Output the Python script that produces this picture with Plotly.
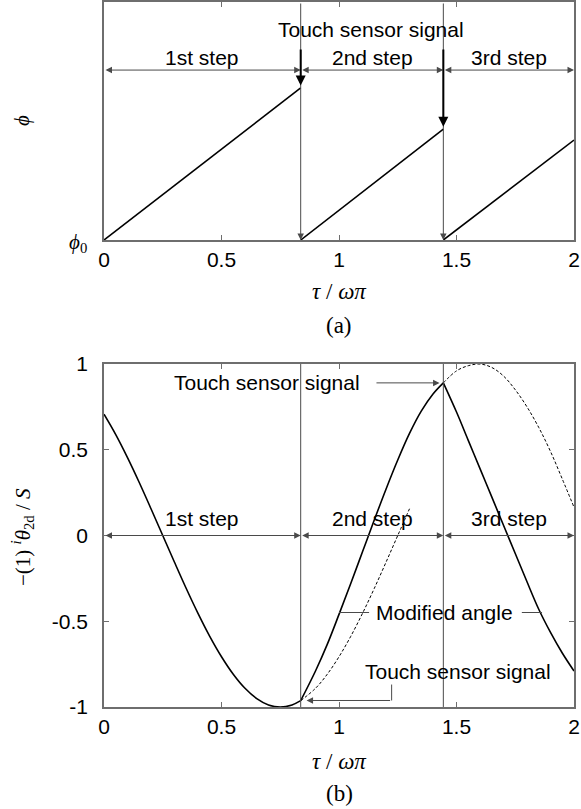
import plotly.graph_objects as go

# ---- data -------------------------------------------------------------
# switching instants (touch sensor signals), in tau / (omega pi)
tau_switch = [0.0, 0.837, 1.444, 2.0]
# phi at the end of each step (phi restarts from phi0 = 0 at each switch)
phi_end = [0.639, 0.466, 0.420]

# (b) desired angle, 1st step (solid)
tau_s1 = [0.0, 0.05, 0.10, 0.15, 0.20, 0.25, 0.30, 0.35, 0.40, 0.45, 0.50,
          0.55, 0.60, 0.65, 0.70, 0.75, 0.80, 0.837]
theta_s1 = [0.707, 0.588, 0.454, 0.309, 0.156, 0.0, -0.156, -0.309, -0.454,
            -0.588, -0.707, -0.809, -0.891, -0.951, -0.988, -1.0, -0.988, -0.963]

# unmodified continuation during the 2nd step (dashed)
tau_d2 = [0.837, 0.90, 0.95, 1.00, 1.05, 1.10, 1.15, 1.20, 1.25, 1.30]
theta_d2 = [-0.963, -0.891, -0.809, -0.707, -0.588, -0.454, -0.309, -0.156, 0.0, 0.156]

# modified angle, 2nd step (solid)
tau_s2 = [0.837, 0.90, 0.95, 1.00, 1.05, 1.10, 1.15, 1.20, 1.25, 1.30, 1.35, 1.40, 1.444]
theta_s2 = [-0.963, -0.79, -0.635, -0.46, -0.28, -0.095, 0.09, 0.27, 0.44, 0.595, 0.725, 0.825, 0.89]

# unmodified continuation during the 3rd step (dashed)
tau_d3 = [1.444, 1.50, 1.55, 1.60, 1.65, 1.70, 1.75, 1.80, 1.85, 1.90, 1.95, 2.0]
theta_d3 = [0.89, 0.96, 0.99, 1.0, 0.98, 0.93, 0.85, 0.75, 0.63, 0.49, 0.33, 0.165]

# modified angle, 3rd step (solid)
tau_s3 = [1.444, 1.50, 1.55, 1.60, 1.65, 1.70, 1.75, 1.80, 1.85, 1.90, 1.95, 2.0]
theta_s3 = [0.89, 0.72, 0.555, 0.39, 0.225, 0.06, -0.105, -0.27, -0.43, -0.565, -0.685, -0.79]

x_ticks = [0, 0.5, 1, 1.5, 2]
x_ticktext = ["0", "0.5", "1", "1.5", "2"]
y_ticks = [-1, -0.5, 0, 0.5, 1]
y_ticktext = ["-1", "-0.5", "0", "0.5", "1"]
step_names = ["1st step", "2nd step", "3rd step"]

# ---- styling ----------------------------------------------------------
SANS = "Liberation Sans, Arial, sans-serif"
SERIF = "Liberation Serif, Times New Roman, serif"
FRAME = "#6e6e6e"
GUIDE = "#4a4a4a"
FS = 21
FS_SERIF = 23

fig = go.Figure()

# (a) phi ramps
for k in range(3):
    fig.add_trace(go.Scatter(
        x=[tau_switch[k], tau_switch[k + 1]], y=[0, phi_end[k]],
        mode="lines", line=dict(color="black", width=1.6),
        xaxis="x", yaxis="y", showlegend=False, hoverinfo="skip"))

# (b) curves
def curve(xs, ys, dash=False):
    fig.add_trace(go.Scatter(
        x=xs, y=ys, mode="lines", line_shape="spline",
        line=dict(color="black", width=1.0 if dash else 1.6,
                  dash="3px,2px" if dash else "solid"),
        xaxis="x2", yaxis="y2", showlegend=False, hoverinfo="skip"))

curve(tau_d2, theta_d2, dash=True)
curve(tau_d3, theta_d3, dash=True)
curve(tau_s1, theta_s1)
curve(tau_s2, theta_s2)
curve(tau_s3, theta_s3)

ann = []
shapes = []

def arrow(x0, y0, x1, y1, xr, yr, side="end", color=GUIDE, width=1.0, size=1.3, head=2):
    ann.append(dict(x=x1, y=y1, ax=x0, ay=y0, xref=xr, yref=yr, axref=xr, ayref=yr,
                    text="", showarrow=True, arrowhead=head, startarrowhead=head,
                    arrowside=side, arrowsize=size, startarrowsize=size,
                    arrowwidth=width, arrowcolor=color, standoff=0, startstandoff=0))

def text(x, y, s, xr, yr, font=SANS, size=FS, **kw):
    ann.append(dict(x=x, y=y, xref=xr, yref=yr, text=s, showarrow=False,
                    xanchor="center", yanchor="middle",
                    font=dict(family=font, size=size, color="black"), **kw))

def seg(x0, y0, x1, y1, xr, yr, color=GUIDE, width=1.0):
    shapes.append(dict(type="line", x0=x0, y0=y0, x1=x1, y1=y1, xref=xr, yref=yr,
                       line=dict(color=color, width=width)))

# --- (a) annotations
step_y_a = 0.714
for k in range(3):
    arrow(tau_switch[k], step_y_a, tau_switch[k + 1], step_y_a, "x", "y", side="end+start")
    text((tau_switch[k] + tau_switch[k + 1]) / 2, 0.765, step_names[k], "x", "y")
for k in (1, 2):
    # switching line down to phi0
    arrow(tau_switch[k], 1.0, tau_switch[k], 0.0, "x", "y")
    # touch sensor signal pointing at the end of the previous ramp
    arrow(tau_switch[k], 0.807, tau_switch[k], phi_end[k - 1] + 0.01, "x", "y",
          color="black", width=2.0, size=1.0)
text(1.136, 0.885, "Touch sensor signal", "x", "y")
text(-0.0553, 0.0, "<i>ϕ</i><sub>0</sub>", "paper", "y", font=SERIF, size=FS, yshift=-3)

# --- (b) annotations
for k in (1, 2):
    seg(tau_switch[k], -1, tau_switch[k], 1, "x2", "y2")
for k in range(3):
    arrow(tau_switch[k], 0.0, tau_switch[k + 1], 0.0, "x2", "y2", side="end+start")
    text((tau_switch[k] + tau_switch[k + 1]) / 2, 0.1, step_names[k], "x2", "y2")

text(0.694, 0.89, "Touch sensor signal", "x2", "y2")
arrow(1.153, 0.89, 1.428, 0.89, "x2", "y2")

text(1.449, -0.449, "Modified angle", "x2", "y2")
seg(1.0, -0.449, 1.128, -0.449, "x2", "y2")
seg(1.778, -0.449, 1.864, -0.449, "x2", "y2")

text(1.506, -0.793, "Touch sensor signal", "x2", "y2")
seg(1.224, -0.869, 1.224, -0.962, "x2", "y2")
arrow(1.224, -0.962, 0.862, -0.962, "x2", "y2")

# axis titles and panel labels
text(0.5, 0.5887, "<i>τ</i> / <i>ωπ</i>", "paper", "paper", font=SERIF, size=FS_SERIF)
text(0.5, -0.078, "<i>τ</i> / <i>ωπ</i>", "paper", "paper", font=SERIF, size=FS_SERIF)
text(0.5, 0.5418, "(a)", "paper", "paper", font=SERIF, size=FS_SERIF)
text(0.5, -0.122, "(b)", "paper", "paper", font=SERIF, size=FS_SERIF)
text(-0.1745, 0.8326, "<i>ϕ</i>", "paper", "paper", font=SERIF, textangle=-90)
text(-0.1745, 0.2411,
     "−(1) <sup><i>i</i></sup><i>θ</i><sub>2d</sub> / <i>S</i>",
     "paper", "paper", font=SERIF, textangle=-90)

axis_common = dict(showline=True, mirror="ticks", linecolor=FRAME, linewidth=1.5,
                   ticks="inside", ticklen=5, tickcolor=FRAME, tickwidth=1,
                   showgrid=False, zeroline=False, automargin=False,
                   tickfont=dict(family=SANS, size=FS, color="black"))

fig.update_layout(
    width=581, height=809,
    margin=dict(l=104, r=7, t=2, b=102, pad=0, autoexpand=False),
    paper_bgcolor="white", plot_bgcolor="white",
    showlegend=False,
    xaxis=dict(domain=[0, 1], range=[0, 2], anchor="y",
               tickvals=x_ticks, ticktext=x_ticktext, ticklabelstandoff=0, **axis_common),
    yaxis=dict(domain=[0.6624, 1], range=[0, 1], anchor="x",
               tickvals=[], **axis_common),
    xaxis2=dict(domain=[0, 1], range=[0, 2], anchor="y2",
                tickvals=x_ticks, ticktext=x_ticktext, ticklabelstandoff=0, **axis_common),
    yaxis2=dict(domain=[0, 0.4865], range=[-1, 1], anchor="x2",
                tickvals=y_ticks, ticktext=y_ticktext, ticklabelstandoff=10, **axis_common),
    annotations=ann, shapes=shapes,
)

fig.write_html("out.html")
